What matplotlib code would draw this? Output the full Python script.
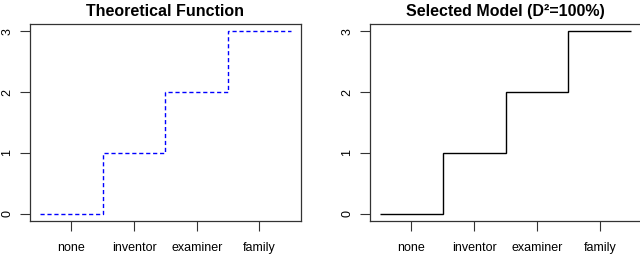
import matplotlib
matplotlib.use('Agg')
import matplotlib.pyplot as plt

# data
categories = ['none', 'inventor', 'examiner', 'family']
theoretical = [0, 1, 2, 3]
selected = [0, 1, 2, 3]
yticks = [0, 1, 2, 3]

plt.rcParams['font.family'] = ['Liberation Sans', 'DejaVu Sans']

fig = plt.figure(figsize=(6.4, 2.56), dpi=100)
ax1 = fig.add_axes([0.047, 0.137, 0.423, 0.769])
ax2 = fig.add_axes([0.578, 0.137, 0.424, 0.769])

pos = list(range(1, len(categories) + 1))
edges = [p - 0.5 for p in pos] + [pos[-1] + 0.5]

ax1.stairs(theoretical, edges, baseline=None, color='#0000ff', linestyle=(0, (3, 2)), linewidth=1)
ax2.stairs(selected, edges, baseline=None, color='black', linewidth=1)

for ax, title in [(ax1, 'Theoretical Function'), (ax2, 'Selected Model (D²=100%)')]:
    ax.set_xlim(0.34, 4.66)
    ax.set_ylim(-0.12, 3.12)
    ax.set_xticks(pos)
    ax.set_xticklabels(categories, fontsize=9)
    ax.set_yticks(yticks)
    ax.set_yticklabels([str(v) for v in yticks], fontsize=9, rotation=90, va='center')
    ax.tick_params(axis='x', length=7, width=0.8, color='#333333', pad=8)
    ax.tick_params(axis='y', length=7, width=0.8, color='#333333', pad=5)
    for s in ax.spines.values():
        s.set_color('#333333')
        s.set_linewidth(0.9)
    ax.set_title(title, fontsize=11.5, fontweight='bold', pad=6)

plt.savefig('out.png', dpi=100)
